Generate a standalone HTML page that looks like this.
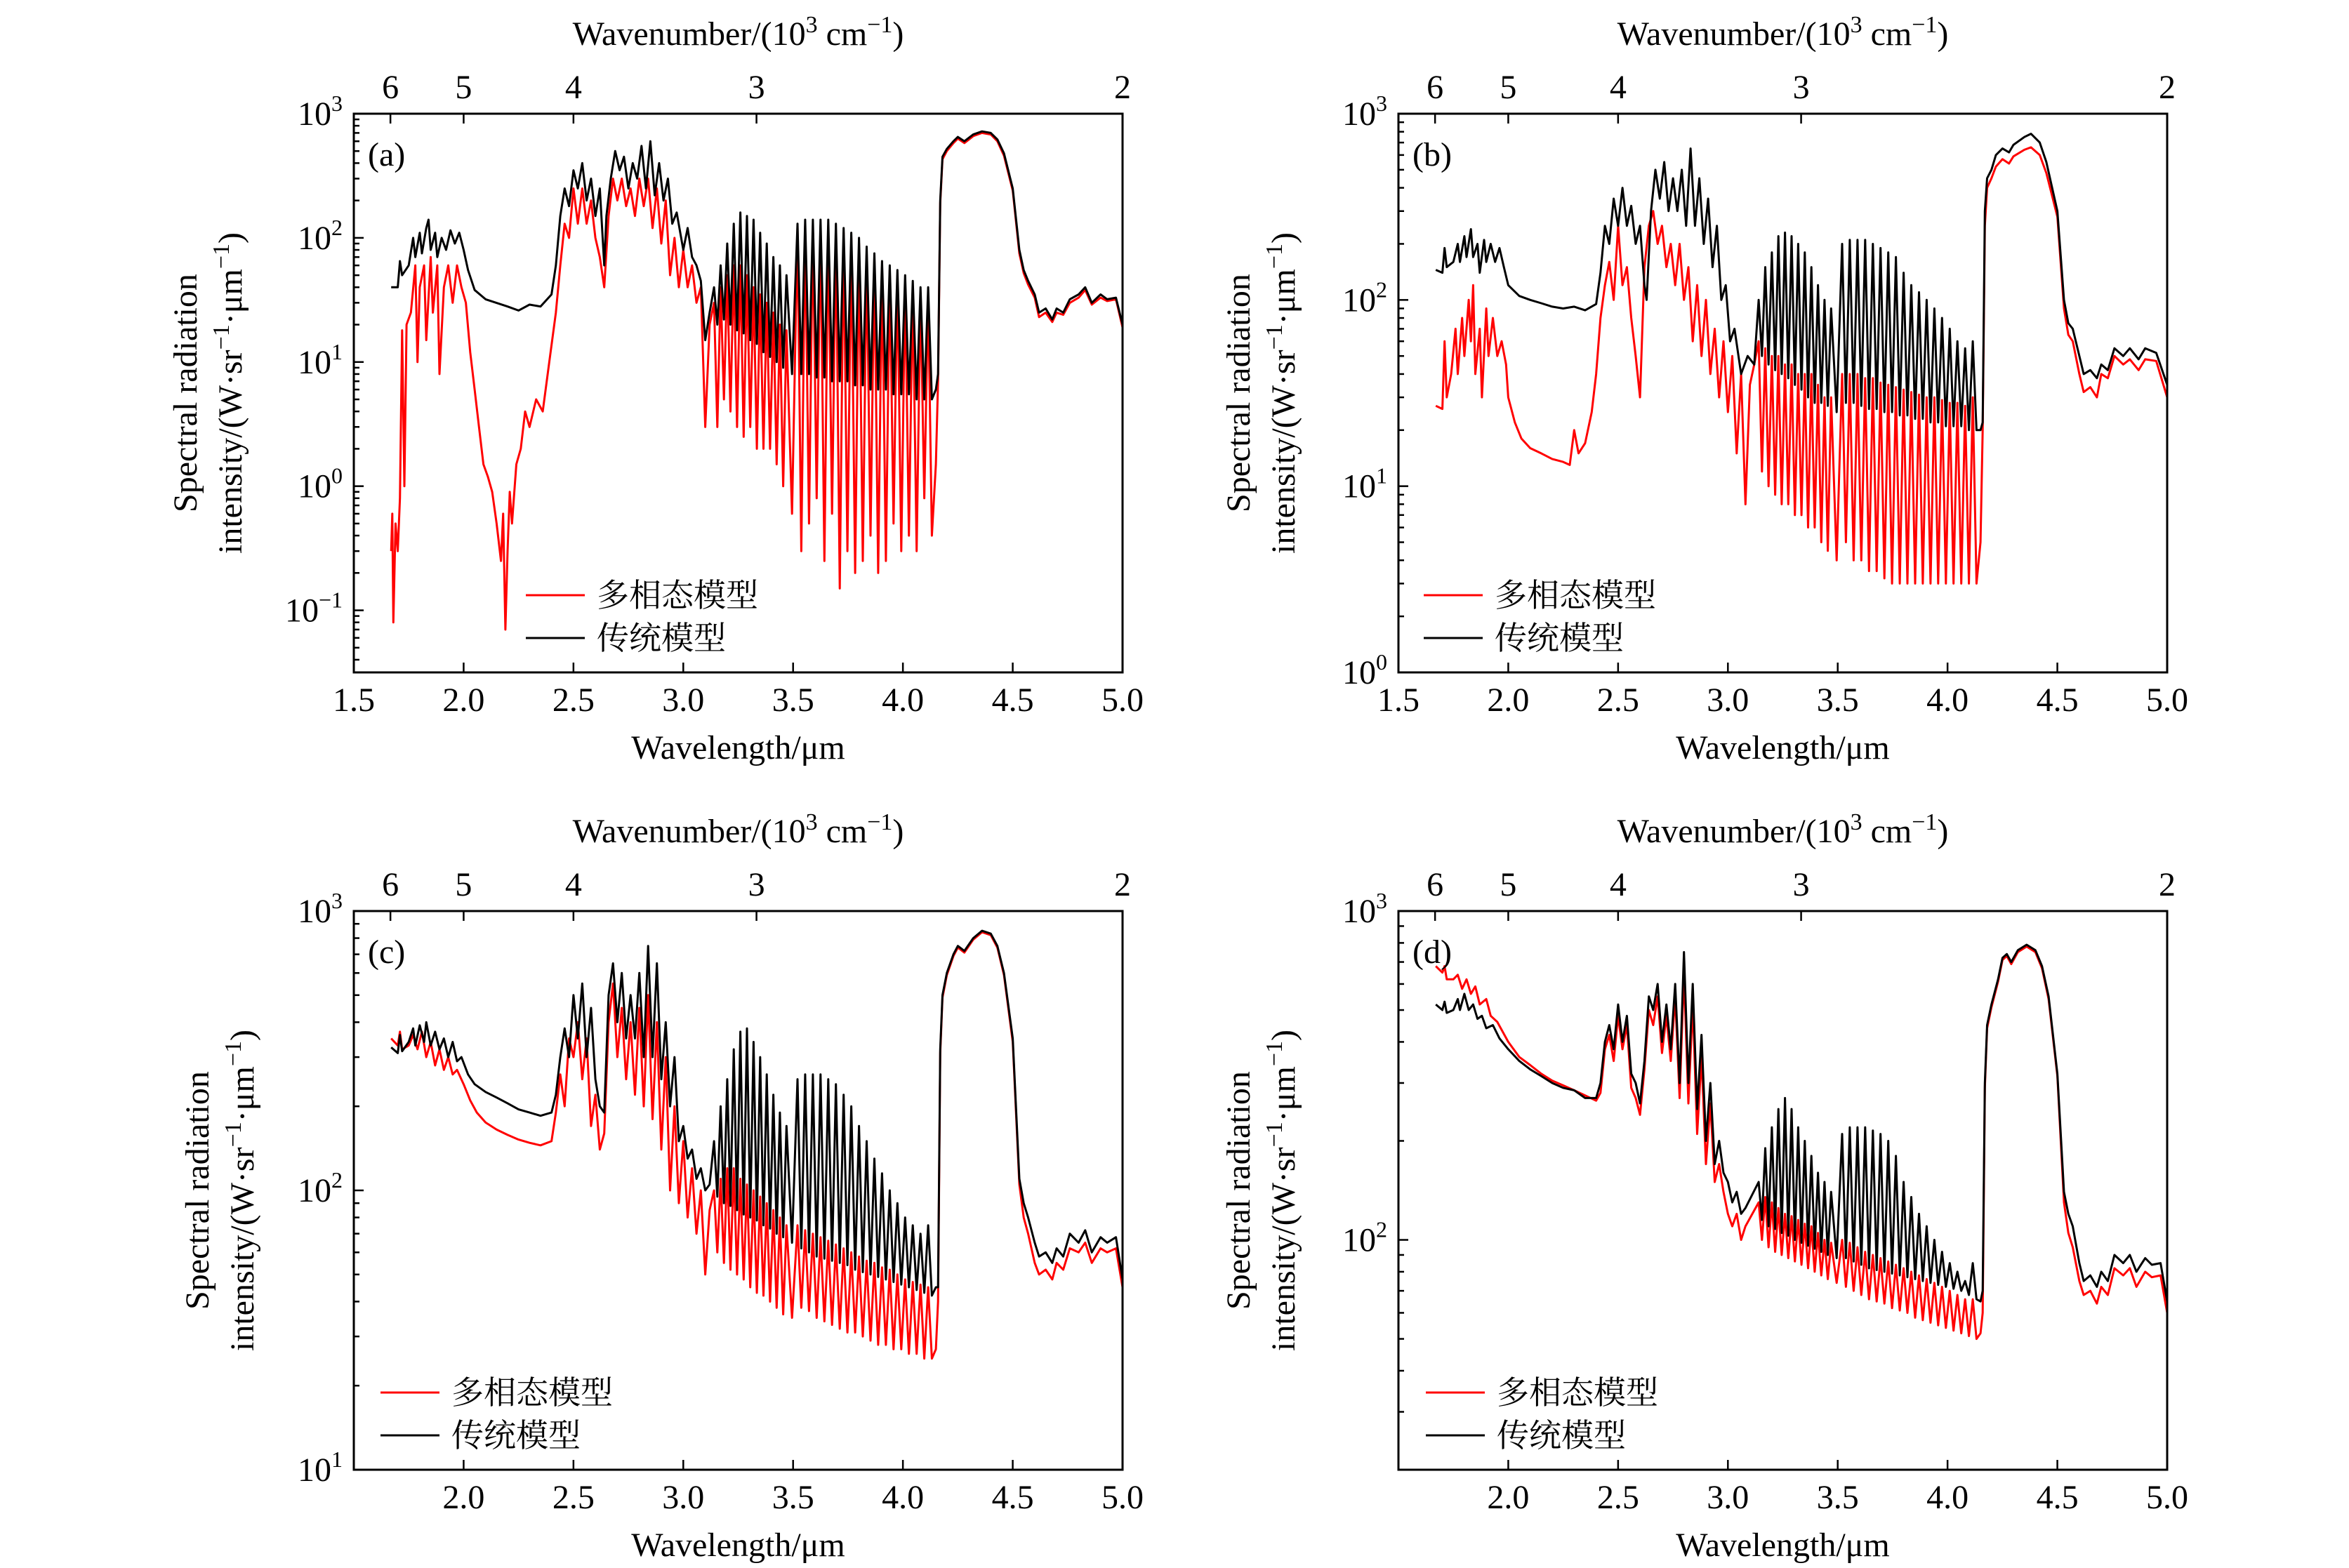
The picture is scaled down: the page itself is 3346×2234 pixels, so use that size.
<!DOCTYPE html>
<html><head><meta charset="utf-8">
<style>
html,body{margin:0;padding:0;background:#fff;}
svg{display:block;}
text{font-family:"Liberation Serif","Noto Serif CJK SC",serif;fill:#000;}
</style></head>
<body>
<svg id="fig" width="3346" height="2234" viewBox="0 0 3346 2234" xmlns="http://www.w3.org/2000/svg"></svg>
<script>
// shared line positions of the spiky band (μm)
const lineX = [3.14,3.17,3.20,3.23,3.26,3.29,3.32,3.35,3.38,3.41,3.44,3.47,
  3.52,3.555,3.59,3.625,3.66,3.695,3.73,3.765,3.80,3.835,3.87,3.905,3.94,3.975,4.01,4.045,4.08,4.115];
const xTicks = [1.5,2.0,2.5,3.0,3.5,4.0,4.5,5.0];
const xTickLabels = ["1.5","2.0","2.5","3.0","3.5","4.0","4.5","5.0"];
const wnTicks = [6,5,4,3,2];

// ---------- panel (a) ----------
const aBlackPre = [[1.67,40],[1.70,40],[1.71,65],[1.72,50],[1.75,60],[1.77,100],[1.78,70],[1.80,110],[1.81,75],[1.83,120],[1.84,140],[1.85,80],[1.87,110],[1.88,70],[1.90,100],[1.92,80],[1.94,115],[1.96,90],[1.98,110],[2.0,80],[2.02,55],[2.05,38],[2.1,32],[2.2,28],[2.25,26],[2.3,29],[2.35,28],[2.4,35],[2.42,60],[2.44,150],[2.46,250],[2.48,180],[2.50,350],[2.52,250],[2.54,400],[2.56,200],[2.58,300],[2.60,150],[2.62,250],[2.64,60],[2.65,150],[2.67,300],[2.69,500],[2.71,350],[2.73,450],[2.75,250],[2.77,400],[2.79,300],[2.81,550],[2.83,250],[2.85,600],[2.87,220],[2.89,400],[2.91,200],[2.93,300],[2.95,130],[2.97,160],[3.0,80],[3.02,120],[3.04,70],[3.06,60],[3.08,45],[3.10,15],[3.12,25]];
const aBlackPeak = [40,60,90,130,160,150,140,110,90,70,60,50,130,140,140,140,140,130,120,110,100,85,75,65,60,55,50,45,40,40];
const aBlackTrough = [20,22,20,18,17,15,14,12,11,10,9,8,8,8,7.5,7.5,7,7,7,6.5,6.5,6,6,6,5.5,5.5,5.5,5,5,5];
const aBlackPost = [[4.15,6],[4.16,8],[4.17,200],[4.18,450],[4.2,520],[4.23,600],[4.25,650],[4.28,600],[4.32,680],[4.36,720],[4.40,700],[4.43,620],[4.46,480],[4.5,250],[4.53,80],[4.55,55],[4.57,45],[4.6,35],[4.62,25],[4.65,27],[4.68,22],[4.7,27],[4.73,25],[4.76,32],[4.8,35],[4.83,40],[4.86,30],[4.9,35],[4.93,32],[4.97,33],[5.0,20]];
const aRedPre = [[1.67,0.3],[1.675,0.6],[1.68,0.08],[1.69,0.5],[1.70,0.3],[1.71,0.8],[1.72,18],[1.73,1],[1.74,20],[1.76,25],[1.78,60],[1.79,10],[1.80,40],[1.82,60],[1.83,15],[1.85,70],[1.86,25],[1.88,60],[1.89,8],[1.91,40],[1.93,60],[1.95,30],[1.97,60],[1.99,40],[2.01,30],[2.03,12],[2.05,6],[2.07,3],[2.09,1.5],[2.11,1.2],[2.13,0.9],[2.15,0.5],[2.17,0.25],[2.18,0.6],[2.19,0.07],[2.20,0.3],[2.21,0.9],[2.22,0.5],[2.24,1.5],[2.26,2],[2.28,4],[2.30,3],[2.33,5],[2.36,4],[2.39,10],[2.42,25],[2.44,60],[2.46,130],[2.48,100],[2.5,250],[2.52,130],[2.54,250],[2.56,130],[2.58,200],[2.6,100],[2.62,70],[2.64,40],[2.66,150],[2.68,300],[2.70,200],[2.72,300],[2.74,180],[2.76,250],[2.78,150],[2.80,300],[2.82,180],[2.84,300],[2.86,120],[2.88,250],[2.90,90],[2.92,200],[2.94,50],[2.96,100],[2.98,40],[3.0,80],[3.02,40],[3.04,60],[3.06,30],[3.08,40],[3.10,3],[3.12,20]];
const aRedPeak = [30,40,50,60,60,50,40,35,30,25,20,18,120,125,125,125,125,115,110,100,90,75,68,58,55,50,45,40,36,36];
const aRedTrough = [3,5,4,3,2.5,3,2,2,2,1.5,1,0.6,0.3,0.5,0.8,0.25,0.6,0.15,0.3,0.2,0.25,0.4,0.2,0.25,0.5,0.3,0.4,0.3,0.8,0.4];
const aRedPost = [[4.15,1.5],[4.16,7],[4.17,190],[4.18,430],[4.2,500],[4.23,580],[4.25,630],[4.28,580],[4.32,660],[4.36,700],[4.40,680],[4.43,600],[4.46,460],[4.5,240],[4.53,75],[4.55,52],[4.57,42],[4.6,33],[4.62,23],[4.65,25],[4.68,21],[4.7,25],[4.73,24],[4.76,30],[4.8,33],[4.83,38],[4.86,29],[4.9,33],[4.93,31],[4.97,32],[5.0,19]];

// ---------- panel (b) ----------
const bBlackPre = [[1.67,145],[1.70,140],[1.71,190],[1.72,150],[1.75,160],[1.77,200],[1.78,160],[1.80,220],[1.81,170],[1.83,240],[1.84,170],[1.86,200],[1.87,140],[1.89,210],[1.90,160],[1.92,200],[1.94,160],[1.96,190],[1.98,150],[2.0,120],[2.05,105],[2.1,100],[2.15,96],[2.2,92],[2.25,90],[2.3,92],[2.35,88],[2.4,95],[2.42,140],[2.44,250],[2.46,200],[2.48,350],[2.50,250],[2.52,400],[2.54,250],[2.56,320],[2.58,200],[2.60,250],[2.62,120],[2.63,100],[2.65,300],[2.67,500],[2.69,350],[2.71,550],[2.73,300],[2.75,450],[2.77,300],[2.79,500],[2.81,250],[2.83,650],[2.85,250],[2.87,450],[2.89,200],[2.91,350],[2.93,150],[2.95,250],[2.97,100],[2.99,120],[3.01,60],[3.03,70],[3.06,40],[3.09,50],[3.12,45]];
const bBlackPeak = [100,150,180,220,230,220,200,180,150,120,100,90,200,210,210,210,200,190,180,170,140,120,110,100,90,80,70,60,55,60];
const bBlackTrough = [50,45,42,40,38,35,33,30,28,28,27,25,28,28,27,26,26,25,25,24,24,23,23,22,22,21,21,21,20,20];
const bBlackPost = [[4.15,20],[4.16,22],[4.17,300],[4.18,450],[4.2,500],[4.22,600],[4.25,650],[4.28,620],[4.3,680],[4.35,750],[4.38,780],[4.42,700],[4.45,550],[4.5,300],[4.53,100],[4.55,75],[4.57,70],[4.6,50],[4.62,40],[4.65,42],[4.68,38],[4.7,45],[4.73,42],[4.76,55],[4.8,50],[4.83,55],[4.87,48],[4.9,55],[4.95,52],[5.0,35]];
const bRedPre = [[1.67,27],[1.70,26],[1.71,60],[1.72,30],[1.74,40],[1.76,70],[1.77,40],[1.79,80],[1.80,50],[1.82,100],[1.83,60],[1.84,120],[1.85,40],[1.87,70],[1.88,30],[1.90,90],[1.91,50],[1.93,80],[1.95,50],[1.97,60],[1.99,45],[2.0,30],[2.03,22],[2.06,18],[2.1,16],[2.15,15],[2.2,14],[2.25,13.5],[2.28,13],[2.3,20],[2.32,15],[2.35,17],[2.38,25],[2.40,40],[2.42,80],[2.44,120],[2.46,160],[2.48,100],[2.50,250],[2.52,120],[2.54,150],[2.56,80],[2.58,50],[2.60,30],[2.62,150],[2.64,250],[2.66,300],[2.68,200],[2.70,250],[2.72,150],[2.74,200],[2.76,120],[2.78,200],[2.80,100],[2.82,150],[2.84,60],[2.86,120],[2.88,50],[2.90,100],[2.92,40],[2.94,70],[2.96,30],[2.98,60],[3.0,25],[3.02,50],[3.04,15],[3.06,40],[3.08,8],[3.10,35],[3.12,45]];
const bRedPeak = [60,55,50,50,45,45,40,40,40,35,30,30,40,40,40,38,38,36,35,34,33,32,31,30,30,29,28,28,27,30];
const bRedTrough = [12,10,9,8,8,7,7,6,6,5,4.5,4,5,4,4,3.5,3.5,3.2,3,3,3,3,3,3,3,3,3,3,3,3];
const bRedPost = [[4.15,5],[4.16,20],[4.17,250],[4.18,400],[4.2,450],[4.22,520],[4.25,570],[4.28,540],[4.3,590],[4.35,640],[4.38,660],[4.42,600],[4.45,480],[4.5,280],[4.53,90],[4.55,65],[4.57,60],[4.6,40],[4.62,32],[4.65,34],[4.68,30],[4.7,40],[4.73,38],[4.76,50],[4.8,45],[4.83,48],[4.87,42],[4.9,48],[4.95,47],[5.0,30]];

// ---------- panel (c) ----------
const cBlackPre = [[1.67,325],[1.70,310],[1.71,360],[1.72,315],[1.75,340],[1.77,380],[1.78,330],[1.80,390],[1.82,340],[1.83,400],[1.85,330],[1.87,370],[1.89,320],[1.91,350],[1.93,300],[1.95,340],[1.97,290],[1.99,300],[2.02,260],[2.05,240],[2.1,225],[2.15,215],[2.2,205],[2.25,195],[2.3,190],[2.35,185],[2.4,190],[2.42,220],[2.44,300],[2.46,380],[2.48,300],[2.50,500],[2.52,350],[2.54,550],[2.56,300],[2.58,450],[2.60,250],[2.62,200],[2.64,190],[2.66,500],[2.68,650],[2.70,400],[2.72,600],[2.74,350],[2.76,500],[2.78,350],[2.80,600],[2.82,300],[2.84,750],[2.86,300],[2.88,650],[2.90,250],[2.92,400],[2.94,200],[2.96,300],[2.98,150],[3.00,170],[3.02,130],[3.04,140],[3.06,110],[3.08,120],[3.10,100],[3.12,105]];
const cBlackPeak = [150,200,250,320,370,380,340,300,260,220,190,170,250,260,260,260,250,240,220,200,170,150,130,115,100,90,80,75,70,75];
const cBlackTrough = [95,90,88,85,82,80,78,75,73,70,68,65,62,60,58,57,56,55,54,52,51,50,49,48,47,46,45,44,43,42];
const cBlackPost = [[4.15,45],[4.16,45],[4.17,320],[4.18,500],[4.2,600],[4.23,700],[4.25,750],[4.28,720],[4.32,800],[4.36,850],[4.40,830],[4.43,750],[4.46,600],[4.5,350],[4.53,110],[4.55,90],[4.57,80],[4.6,65],[4.62,58],[4.65,60],[4.68,55],[4.7,62],[4.73,58],[4.76,70],[4.8,65],[4.83,72],[4.86,60],[4.9,68],[4.93,65],[4.97,68],[5.0,48]];
const cRedPre = [[1.67,350],[1.70,330],[1.71,370],[1.72,320],[1.75,330],[1.77,360],[1.79,320],[1.81,370],[1.83,300],[1.85,340],[1.87,280],[1.89,320],[1.91,270],[1.93,300],[1.95,260],[1.97,270],[2.0,240],[2.03,210],[2.06,190],[2.1,175],[2.15,165],[2.2,158],[2.25,152],[2.3,148],[2.35,145],[2.4,150],[2.42,190],[2.44,260],[2.46,200],[2.48,350],[2.50,300],[2.52,400],[2.54,250],[2.56,350],[2.58,170],[2.60,220],[2.62,140],[2.64,160],[2.66,400],[2.68,550],[2.70,300],[2.72,450],[2.74,250],[2.76,400],[2.78,220],[2.80,450],[2.82,200],[2.84,500],[2.86,180],[2.88,400],[2.90,140],[2.92,300],[2.94,100],[2.96,200],[2.98,90],[3.0,150],[3.02,80],[3.04,120],[3.06,70],[3.08,100],[3.10,50],[3.12,85]];
const cRedPeak = [100,110,120,120,110,105,100,95,90,85,80,75,75,72,70,68,66,64,62,60,58,56,55,53,52,50,48,47,46,45];
const cRedTrough = [60,55,52,50,48,45,43,42,40,38,36,35,38,37,35,34,33,32,31,31,30,29,28,28,27,27,26,26,25,25];
const cRedPost = [[4.15,27],[4.16,40],[4.17,310],[4.18,490],[4.2,590],[4.23,690],[4.25,740],[4.28,710],[4.32,790],[4.36,840],[4.40,820],[4.43,740],[4.46,590],[4.5,340],[4.53,105],[4.55,80],[4.57,70],[4.6,55],[4.62,50],[4.65,52],[4.68,48],[4.7,55],[4.73,52],[4.76,62],[4.8,60],[4.83,65],[4.86,55],[4.9,62],[4.93,60],[4.97,62],[5.0,45]];

// ---------- panel (d) ----------
const dBlackPre = [[1.67,520],[1.70,500],[1.71,530],[1.72,490],[1.75,500],[1.77,540],[1.78,500],[1.80,560],[1.82,500],[1.84,520],[1.86,470],[1.88,480],[1.90,440],[1.93,450],[1.96,410],[2.0,380],[2.05,350],[2.1,330],[2.15,315],[2.2,300],[2.25,290],[2.3,285],[2.35,270],[2.4,270],[2.42,300],[2.44,400],[2.46,450],[2.48,380],[2.50,520],[2.52,400],[2.54,480],[2.56,320],[2.58,300],[2.60,260],[2.62,350],[2.64,550],[2.66,500],[2.68,600],[2.70,400],[2.72,520],[2.74,380],[2.76,600],[2.78,300],[2.80,750],[2.82,300],[2.84,600],[2.86,250],[2.88,420],[2.90,200],[2.92,300],[2.94,170],[2.96,200],[2.98,160],[3.0,150],[3.02,130],[3.04,140],[3.06,120],[3.08,125]];
const dBlackPeak = [150,190,220,250,270,250,220,200,180,160,150,140,210,220,220,220,215,210,200,180,150,135,120,110,100,92,85,80,75,85];
const dBlackTrough = [115,110,108,105,103,100,98,96,94,92,90,88,88,86,84,82,81,80,79,78,77,76,75,74,73,72,71,70,68,66];
const dBlackPost = [[4.15,65],[4.16,70],[4.17,300],[4.18,450],[4.2,520],[4.23,620],[4.25,720],[4.27,740],[4.29,700],[4.32,760],[4.36,790],[4.40,760],[4.43,680],[4.46,550],[4.5,320],[4.53,140],[4.55,120],[4.57,110],[4.6,85],[4.62,75],[4.65,78],[4.68,72],[4.7,80],[4.73,75],[4.76,90],[4.8,85],[4.83,90],[4.86,80],[4.9,88],[4.93,84],[4.97,85],[5.0,65]];
const dRedPre = [[1.67,680],[1.70,650],[1.71,680],[1.72,620],[1.75,620],[1.77,640],[1.79,580],[1.81,620],[1.83,560],[1.85,590],[1.87,520],[1.90,540],[1.92,480],[1.95,460],[2.0,400],[2.05,360],[2.1,340],[2.15,320],[2.2,305],[2.25,295],[2.3,285],[2.35,275],[2.4,265],[2.42,280],[2.44,380],[2.46,420],[2.48,350],[2.50,480],[2.52,380],[2.54,450],[2.56,290],[2.58,270],[2.60,240],[2.62,330],[2.64,500],[2.66,450],[2.68,550],[2.70,370],[2.72,480],[2.74,350],[2.76,550],[2.78,270],[2.80,650],[2.82,260],[2.84,520],[2.86,210],[2.88,360],[2.90,170],[2.92,260],[2.94,150],[2.96,170],[2.98,140],[3.0,120],[3.02,110],[3.04,120],[3.06,100],[3.08,110]];
const dRedPeak = [130,135,130,125,120,118,115,112,110,105,100,98,100,98,95,92,90,88,86,84,82,80,78,76,74,72,70,68,66,66];
const dRedTrough = [100,95,92,90,88,86,84,82,80,78,76,74,72,70,68,66,65,64,62,61,60,58,57,56,55,54,53,52,51,50];
const dRedPost = [[4.15,52],[4.16,60],[4.17,290],[4.18,440],[4.2,510],[4.23,610],[4.25,710],[4.27,730],[4.29,690],[4.32,750],[4.36,780],[4.40,750],[4.43,670],[4.46,540],[4.5,315],[4.53,130],[4.55,105],[4.57,95],[4.6,75],[4.62,68],[4.65,70],[4.68,64],[4.7,72],[4.73,68],[4.76,82],[4.8,78],[4.83,82],[4.86,72],[4.9,80],[4.93,77],[4.97,78],[5.0,60]];

const NS = "http://www.w3.org/2000/svg";
const svg = document.getElementById('fig');
function mk(tag, attrs, parent){ const e=document.createElementNS(NS,tag); for(const k in attrs) e.setAttribute(k,attrs[k]); (parent||svg).appendChild(e); return e; }

const panels = [
 {id:'a', L:504, T:162, ymin:-1.5, ymax:3, yl:[3,2,1,0,-1], ylabX:264, showX15:true,
  black:[aBlackPre,aBlackPeak,aBlackTrough,aBlackPost], red:[aRedPre,aRedPeak,aRedTrough,aRedPost], legX:245},
 {id:'b', L:1992, T:162, ymin:0, ymax:3, yl:[3,2,1,0], ylabX:1764, showX15:true,
  black:[bBlackPre,bBlackPeak,bBlackTrough,bBlackPost], red:[bRedPre,bRedPeak,bRedTrough,bRedPost], legX:36},
 {id:'c', L:504, T:1298, ymin:1, ymax:3, yl:[3,2,1], ylabX:281, showX15:false,
  black:[cBlackPre,cBlackPeak,cBlackTrough,cBlackPost], red:[cRedPre,cRedPeak,cRedTrough,cRedPost], legX:38},
 {id:'d', L:1992, T:1298, ymin:Math.log10(20), ymax:3, yl:[3,2], ylabX:1764, showX15:false,
  black:[dBlackPre,dBlackPeak,dBlackTrough,dBlackPost], red:[dRedPre,dRedPeak,dRedTrough,dRedPost], legX:39}
];
const W=1095, H=796;

function buildPts(s){
  const pts = s[0].slice();
  for(let i=0;i<lineX.length;i++){
    pts.push([lineX[i], s[1][i]]);
    const nx = i<lineX.length-1 ? (lineX[i]+lineX[i+1])/2 : lineX[i]+0.017;
    pts.push([nx, s[2][i]]);
  }
  return pts.concat(s[3]);
}

panels.forEach(p=>{
  const g = mk('g',{});
  
  
  const R=p.L+W, B=p.T+H;
  const xs = v => p.L + (v-1.5)/3.5*W;
  const ys = v => p.T + (p.ymax - Math.log10(v))/(p.ymax-p.ymin)*H;
  const cid='clip'+p.id;
  const cp = mk('clipPath',{id:cid},g); mk('rect',{x:p.L,y:p.T,width:W,height:H},cp);
  [['red','#ff0000','multiphase-model-line'],['black','#000000','traditional-model-line']].forEach(([k,col,nm])=>{
    const pts = buildPts(p[k]);
    const d = pts.map((q,i)=>(i?'L':'M')+xs(q[0]).toFixed(1)+' '+ys(q[1]).toFixed(1)).join('');
    const path = mk('path',{d:d,fill:'none',stroke:col,'stroke-width':3,'stroke-linejoin':'round','clip-path':'url(#'+cid+')'},g);
    
    
  });
  const fr = mk('rect',{x:p.L,y:p.T,width:W,height:H,fill:'none',stroke:'#000','stroke-width':3},g);
  
  
  xTicks.forEach((t,i)=>{
    const x=xs(t);
    if(i>0 && i<xTicks.length-1) mk('line',{x1:x,y1:B,x2:x,y2:B-14,stroke:'#000','stroke-width':2.5},g);
    if(i===0 && !p.showX15) return;
    const tx = mk('text',{x:x,y:B+55,'font-size':48,'text-anchor':'middle'},g);
    tx.textContent = xTickLabels[i];
    
    
  });
  wnTicks.forEach(w=>{
    const x=xs(10/w);
    mk('line',{x1:x,y1:p.T,x2:x,y2:p.T+14,stroke:'#000','stroke-width':2.5},g);
    const tx = mk('text',{x:x,y:p.T-22,'font-size':48,'text-anchor':'middle'},g);
    tx.textContent = String(w);
    
    
  });
  for(let dcd=Math.floor(p.ymin); dcd<p.ymax; dcd++){
    for(let m=1;m<10;m++){
      const lv = dcd+Math.log10(m);
      if(lv < p.ymin-1e-9 || lv > p.ymax+1e-9) continue;
      const y=ys(Math.pow(10,lv));
      mk('line',{x1:p.L,y1:y,x2:p.L+(m===1?14:8),y2:y,stroke:'#000','stroke-width':2.5},g);
    }
  }
  p.yl.forEach(e=>{
    const y=ys(Math.pow(10,e));
    const tx = mk('text',{x:p.L-16,y:y+16,'font-size':48,'text-anchor':'end'},g);
    
    
    const t1=mk('tspan',{},tx); t1.textContent='10';
    const t2=mk('tspan',{dy:-20,'font-size':32},tx); t2.textContent=(e<0?'−':'')+Math.abs(e);
  });
  const pl = mk('text',{x:p.L+20,y:p.T+74,'font-size':48},g);
  pl.textContent='('+p.id+')';
  
  
  const cx=p.L+W/2;
  const xt = mk('text',{x:cx,y:B+123,'font-size':48,'text-anchor':'middle'},g);
  xt.textContent='Wavelength/μm';
  
  
  const tt = mk('text',{x:cx,y:p.T-98,'font-size':48,'text-anchor':'middle'},g);
  
  
  let s=mk('tspan',{},tt); s.textContent='Wavenumber/(10';
  s=mk('tspan',{dy:-18,'font-size':34},tt); s.textContent='3';
  s=mk('tspan',{dy:18},tt); s.textContent=' cm';
  s=mk('tspan',{dy:-18,'font-size':34},tt); s.textContent='−1';
  s=mk('tspan',{dy:18},tt); s.textContent=')';
  const cy=p.T+H/2;
  const y1 = mk('text',{x:0,y:0,'font-size':48,'text-anchor':'middle',transform:'translate('+(p.ylabX+16)+','+cy+') rotate(-90)'},g);
  y1.textContent='Spectral radiation';
  
  
  const y2 = mk('text',{x:0,y:0,'font-size':48,'text-anchor':'middle',transform:'translate('+(p.ylabX+80)+','+cy+') rotate(-90)'},g);
  
  
  s=mk('tspan',{},y2); s.textContent='intensity/(W·sr';
  s=mk('tspan',{dy:-18,'font-size':34},y2); s.textContent='−1';
  s=mk('tspan',{dy:18},y2); s.textContent='·μm';
  s=mk('tspan',{dy:-18,'font-size':34},y2); s.textContent='−1';
  s=mk('tspan',{dy:18},y2); s.textContent=')';
  const lg = mk('g',{},g);
  
  
  [['#ff0000','多相态模型',B-110],['#000000','传统模型',B-49]].forEach(([c,t,yy])=>{
    mk('line',{x1:p.L+p.legX,y1:yy,x2:p.L+p.legX+84,y2:yy,stroke:c,'stroke-width':3},lg);
    const lt = mk('text',{x:p.L+p.legX+101,y:yy+16,'font-size':46,style:'font-family:"Noto Serif CJK SC","Noto Sans CJK SC",serif'},lg);
    lt.textContent=t;
    
    
  });
});
</script>
</body></html>
